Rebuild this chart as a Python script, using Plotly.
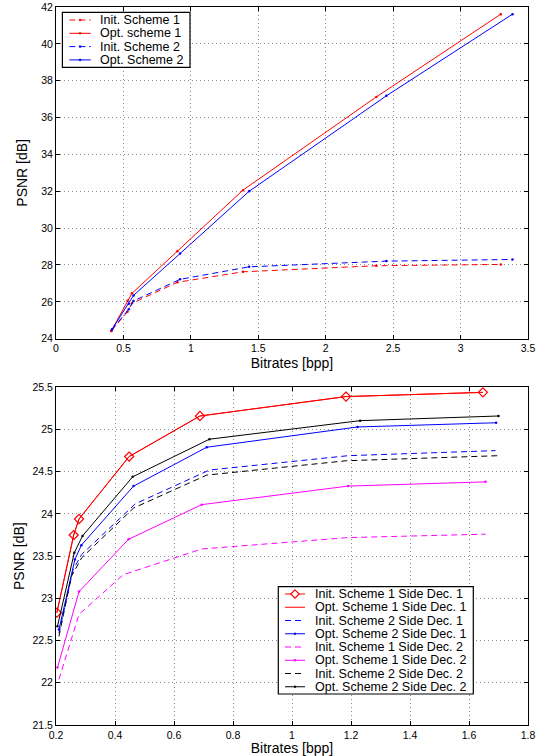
import plotly.graph_objects as go
from plotly.subplots import make_subplots

# ---------------- top panel data ----------------
top_br_s1 = [0.41, 0.53, 0.563, 0.90, 1.386, 2.375, 3.298]
top_init_s1 = [24.42, 25.46, 25.92, 27.06, 27.63, 27.96, 28.03]
top_opt_s1 = [24.42, 26.06, 26.46, 28.75, 32.06, 37.12, 41.61]
top_br_s2 = [0.415, 0.54, 0.575, 0.92, 1.432, 2.45, 3.385]
top_init_s2 = [24.5, 25.6, 26.05, 27.22, 27.9, 28.21, 28.3]
top_opt_s2 = [24.5, 25.9, 26.35, 28.62, 32.0, 37.18, 41.61]
top_xticks = [0, 0.5, 1, 1.5, 2, 2.5, 3, 3.5]
top_yticks = [24, 26, 28, 30, 32, 34, 36, 38, 40, 42]

# ---------------- bottom panel data ----------------
br_s1_d1 = [0.203, 0.260, 0.278, 0.448, 0.688, 1.183, 1.647]
init_s1_d1 = [22.83, 23.75, 23.94, 24.68, 25.16, 25.39, 25.44]
opt_s1_d1 = [22.83, 23.75, 23.94, 24.68, 25.16, 25.39, 25.44]
br_init_s2_d1 = [0.21, 0.258, 0.287, 0.469, 0.72, 1.19, 1.69]
init_s2_d1 = [22.59, 23.34, 23.52, 24.12, 24.52, 24.69, 24.75]
br_opt_s2_d1 = [0.21, 0.264, 0.286, 0.463, 0.711, 1.222, 1.692]
opt_s2_d1 = [22.63, 23.46, 23.63, 24.33, 24.79, 25.03, 25.08]
br_init_s1_d2 = [0.21, 0.278, 0.428, 0.694, 1.19, 1.656]
init_s1_d2 = [22.04, 22.81, 23.28, 23.585, 23.72, 23.76]
br_opt_s1_d2 = [0.205, 0.278, 0.446, 0.694, 1.19, 1.656]
opt_s1_d2 = [22.18, 23.08, 23.70, 24.11, 24.33, 24.38]
br_init_s2_d2 = [0.21, 0.252, 0.287, 0.463, 0.711, 1.184, 1.70]
init_s2_d2 = [22.55, 23.26, 23.48, 24.07, 24.46, 24.63, 24.69]
br_opt_s2_d2 = [0.205, 0.262, 0.29, 0.46, 0.72, 1.231, 1.70]
opt_s2_d2 = [22.67, 23.54, 23.74, 24.44, 24.885, 25.105, 25.16]
bot_xticks = [0.2, 0.4, 0.6, 0.8, 1, 1.2, 1.4, 1.6, 1.8]
bot_yticks = [21.5, 22, 22.5, 23, 23.5, 24, 24.5, 25, 25.5]

DASH = "6px,4px"
FONT = "Liberation Sans, Arial, sans-serif"
W, H = 543, 756
ML, MR, MT, MB = 56, 15, 7, 31
PW, PH = W - ML - MR, H - MT - MB

def px(X):
    return (X - ML) / PW

def py(Y):
    return (H - MB - Y) / PH

fig = make_subplots(rows=2, cols=1, vertical_spacing=0.0)

# series: (x, y, name, color, dash, marker-kind)
series_top = [
    (top_br_s1, top_init_s1, "Init. Scheme 1", "#ff0000", DASH, "dot"),
    (top_br_s1, top_opt_s1, "Opt. scheme 1", "#ff0000", "solid", "dot"),
    (top_br_s2, top_init_s2, "Init. Scheme 2", "#0000ff", DASH, "dot"),
    (top_br_s2, top_opt_s2, "Opt. Scheme 2", "#0000ff", "solid", "dot"),
]
series_bot = [
    (br_s1_d1, opt_s1_d1, "Opt. Scheme 1 Side Dec. 1", "#ff0000", "solid", "none"),
    (br_s1_d1, init_s1_d1, "Init. Scheme 1 Side Dec. 1", "#ff0000", "solid", "diamond"),
    (br_init_s2_d1, init_s2_d1, "Init. Scheme 2 Side Dec. 1", "#0000ff", DASH, "none"),
    (br_opt_s2_d1, opt_s2_d1, "Opt. Scheme 2 Side Dec. 1", "#0000ff", "solid", "dot"),
    (br_init_s1_d2, init_s1_d2, "Init. Scheme 1 Side Dec. 2", "#ff00ff", DASH, "none"),
    (br_opt_s1_d2, opt_s1_d2, "Opt. Scheme 1 Side Dec. 2", "#ff00ff", "solid", "dot"),
    (br_init_s2_d2, init_s2_d2, "Init. Scheme 2 Side Dec. 2", "#000000", DASH, "none"),
    (br_opt_s2_d2, opt_s2_d2, "Opt. Scheme 2 Side Dec. 2", "#000000", "solid", "dot"),
]

def marker_for(kind, color):
    if kind == "diamond":
        return dict(symbol="diamond-open", size=7, color=color, line=dict(width=1.2, color=color))
    if kind == "dot":
        return dict(symbol="circle", size=2.5, color=color)
    return dict(size=0.1, color=color, opacity=0)

for row, group in ((1, series_top), (2, series_bot)):
    for x, y, name, color, dash, kind in group:
        fig.add_trace(go.Scatter(x=x, y=y, name=name, mode="lines+markers",
                                 line=dict(color=color, width=1, dash=dash),
                                 marker=marker_for(kind, color), showlegend=False,
                                 hoverinfo="skip"),
                      row=row, col=1)

# ---------------- manual MATLAB-like legends ----------------
shapes = []
annotations = []

def build_legend(entries, box, y0, dy, lx0, lx1, tx):
    bx0, bx1, by0, by1 = box
    shapes.append(dict(type="rect", xref="paper", yref="paper",
                       x0=px(bx0), x1=px(bx1), y0=py(by0), y1=py(by1),
                       fillcolor="white", line=dict(color="black", width=1.2)))
    for i, (name, color, dash, kind) in enumerate(entries):
        yc = y0 + i * dy
        shapes.append(dict(type="line", xref="paper", yref="paper",
                           x0=px(lx0), x1=px(lx1), y0=py(yc), y1=py(yc),
                           line=dict(color=color, width=1, dash=dash)))
        xm = (lx0 + lx1) / 2
        if kind == "dot":
            shapes.append(dict(type="circle", xref="paper", yref="paper",
                               x0=px(xm - 1), x1=px(xm + 1), y0=py(yc - 1), y1=py(yc + 1),
                               fillcolor=color, line=dict(color=color, width=0.5)))
        elif kind == "diamond":
            r = 4.2
            path = "M {a},{b} L {c},{d} L {a},{e} L {f},{d} Z".format(
                a=px(xm), b=py(yc - r), c=px(xm + r), d=py(yc), e=py(yc + r), f=px(xm - r))
            shapes.append(dict(type="path", xref="paper", yref="paper", path=path,
                               fillcolor="white", line=dict(color=color, width=1.2)))
        annotations.append(dict(text=name, xref="paper", yref="paper", x=px(tx), y=py(yc),
                                xanchor="left", yanchor="middle", showarrow=False,
                                font=dict(family=FONT, size=12.5, color="black")))

top_entries = [(s[2], s[3], s[4], s[5]) for s in series_top]
build_legend(top_entries, (62.4, 190, 12.3, 67.3), 20.0, 13.3, 69.3, 90.8, 97.5)

order = [1, 0, 2, 3, 4, 5, 6, 7]
bot_entries = [(series_bot[k][2], series_bot[k][3], series_bot[k][4], series_bot[k][5])
               for k in order]
build_legend(bot_entries, (278.3, 473.3, 586.7, 694.0), 594.0, 13.25, 285, 305, 313.3)

axis_common = dict(showline=True, linecolor="black", linewidth=1, mirror="allticks",
                   ticks="inside", ticklen=4, tickcolor="black", showgrid=True,
                   gridcolor="#8c8c8c", griddash="1px,3px", gridwidth=1, zeroline=False,
                   automargin=False, tickmode="array",
                   tickfont=dict(family=FONT, size=10.5, color="black"))

top_bottom = py(338.7)
bot_top = py(387.3)
title_font = dict(family=FONT, size=14, color="black")

fig.update_xaxes(**axis_common)
fig.update_yaxes(**axis_common)
fig.update_layout(
    xaxis=dict(range=[0, 3.5], tickvals=top_xticks,
               title=dict(text="Bitrates [bpp]", standoff=4, font=title_font)),
    yaxis=dict(range=[24, 42], tickvals=top_yticks, domain=[top_bottom, 1.0],
               title=dict(text="PSNR [dB]", standoff=10, font=title_font)),
    xaxis2=dict(range=[0.2, 1.8], tickvals=bot_xticks,
                title=dict(text="Bitrates [bpp]", standoff=2, font=title_font)),
    yaxis2=dict(range=[21.5, 25.5], tickvals=bot_yticks, domain=[0, bot_top],
                title=dict(text="PSNR [dB]", standoff=4, font=title_font)),
)

fig.update_layout(
    width=W, height=H,
    margin=dict(l=ML, r=MR, t=MT, b=MB),
    paper_bgcolor="white", plot_bgcolor="white",
    font=dict(family=FONT, size=11, color="black"),
    showlegend=False, hovermode=False,
    shapes=shapes, annotations=annotations,
)

fig.write_html("out.html", config={"displayModeBar": False, "staticPlot": True},
               post_script="document.body.style.margin='0';document.body.style.overflow='hidden';")
